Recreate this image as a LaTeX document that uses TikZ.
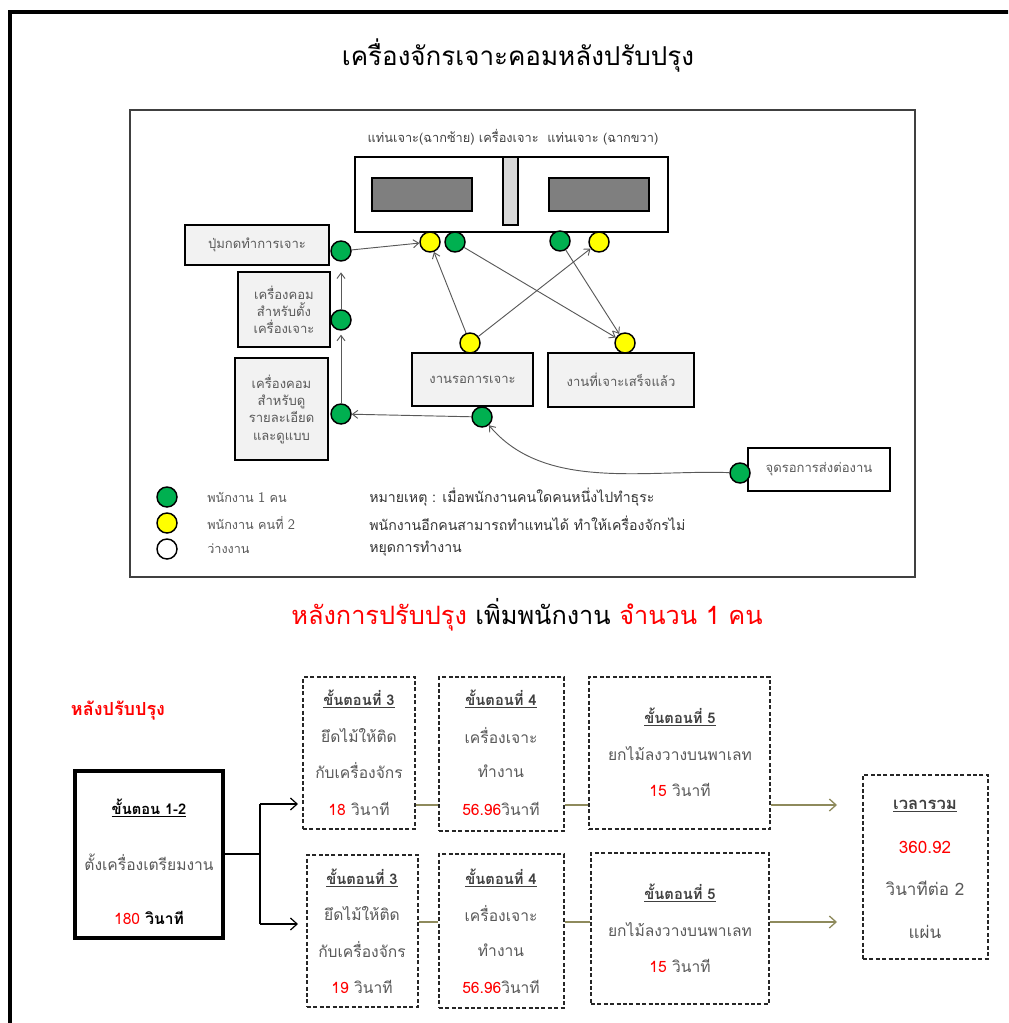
\documentclass[tikz,border=0pt]{standalone}
\usepackage{fontspec}
\setmainfont[Script=Thai]{Loma}
\usetikzlibrary{arrows.meta}

\definecolor{boxgray}{HTML}{F2F2F2}
\definecolor{staffgreen}{HTML}{00B050}
\definecolor{staffyellow}{HTML}{FFFF00}
\definecolor{linegray}{HTML}{595959}
\definecolor{textgray}{HTML}{595959}
\definecolor{headgray}{HTML}{404040}
\definecolor{flowolive}{HTML}{8E8A5C}
\definecolor{darkfill}{HTML}{7F7F7F}
\definecolor{barfill}{HTML}{D9D9D9}
\definecolor{headred}{HTML}{FF0000}

% rectangle node spanning (x1,y1)-(x2,y2) in pixel units
\newcommand\mybox[6]{\node[#1, minimum width={(#5-#3)*0.75pt}, minimum height={(#6-#4)*0.75pt}] (#2) at ({(#3+#5)/2},{(#4+#6)/2}) {};}
% staff marker
\newcommand\staff[4]{\node[staffdot, fill=#2] (#1) at (#3,#4) {};}

\tikzset{
  plainbox/.style={rectangle, draw=black, line width=1.2pt, fill=boxgray, inner sep=0pt},
  whitebox/.style={plainbox, fill=white},
  dashbox/.style={rectangle, draw=black!85, line width=1pt, dash pattern=on 3pt off 1.8pt, inner sep=0pt, fill=white},
  thickbox/.style={rectangle, draw=black, line width=2.3pt, inner sep=0pt, fill=white},
  staffdot/.style={circle, draw=black, line width=1.1pt, minimum size=15pt, inner sep=0pt},
  flow/.style={draw=linegray, line width=0.7pt, -{Straight Barb[length=4pt,width=6pt]}},
  conn/.style={draw=black, line width=0.9pt},
  connarrow/.style={conn, -{Straight Barb[length=5pt,width=9pt]}},
  olive/.style={draw=flowolive, line width=1pt},
  olivearrow/.style={olive, -{Straight Barb[length=5pt,width=9pt]}},
  small/.style={font=\fontsize{9.8}{11}\selectfont, text=textgray, inner sep=0pt},
  note/.style={font=\fontsize{10.6}{12}\selectfont, text=black!80, inner sep=0pt, anchor=west},
  legend/.style={font=\fontsize{9.5}{11}\selectfont, text=textgray, inner sep=0pt, anchor=west},
  body/.style={font=\fontsize{11.7}{13}\selectfont, text=textgray, inner sep=0pt},
  bigbody/.style={font=\fontsize{12.8}{14}\selectfont, text=textgray, inner sep=0pt},
  head/.style={font=\fontsize{11}{13}\selectfont\bfseries, text=headgray, inner sep=0pt},
}

\begin{document}
\begin{tikzpicture}[x=0.75pt,y=-0.75pt]
\useasboundingbox (0,0) rectangle (1008,1023);
\begin{scope}
\clip (0,0) rectangle (1008,1023);
% outer frame
\draw[line width=2.6pt] (10,12) rectangle (1040,1060);
\end{scope}

\node[font=\fontsize{19.5}{22}\selectfont, inner sep=0pt] (title) at (518,56) {เครื่องจักรเจาะคอมหลังปรับปรุง};

% ---------- layout panel ----------
\draw[draw=headgray, line width=1.3pt] (130,110) rectangle (915,577);

\node[small, font=\fontsize{9.6}{11}\selectfont, text=headgray] (machinelbl) at (513,137) {แท่นเจาะ(ฉากซ้าย) เครื่องเจาะ\ \ แท่นเจาะ (ฉากขวา)};

\mybox{whitebox}{machine}{355}{157}{668}{232}
\mybox{plainbox, fill=darkfill}{tableL}{372}{178}{472}{211}
\mybox{plainbox, fill=darkfill}{tableR}{549}{178}{649}{211}
\mybox{plainbox, fill=barfill, line width=1pt}{drill}{503}{157}{518}{225}

\mybox{plainbox}{button}{185}{225}{329}{265}
\node[small] (buttontxt) at (button) {ปุ่มกดทำการเจาะ};
\mybox{plainbox}{pcset}{238}{272}{330}{347}
\node[small, align=center, font=\fontsize{9.8}{12.7}\selectfont] (pcsettxt) at (pcset) {เครื่องคอม\\สำหรับตั้ง\\เครื่องเจาะ};
\mybox{plainbox}{pcview}{235}{358}{328}{460}
\node[small, align=center, font=\fontsize{9.8}{13}\selectfont] (pcviewtxt) at (pcview) {เครื่องคอม\\สำหรับดู\\รายละเอียด\\และดูแบบ};
\mybox{plainbox}{waiting}{412}{353}{533}{406}
\node[small] (waitingtxt) at (waiting) {งานรอการเจาะ};
\mybox{plainbox}{finished}{548}{353}{694}{407}
\node[small] (finishedtxt) at (finished) {งานที่เจาะเสร็จแล้ว};
\mybox{whitebox}{handoff}{748}{448}{890}{491}
\node[small] (handofftxt) at (handoff) {จุดรอการส่งต่องาน};

% staff positions
\staff{yA}{staffyellow}{430}{242}
\staff{gA}{staffgreen}{455}{242}
\staff{gB}{staffgreen}{560}{241}
\staff{yB}{staffyellow}{599}{242}
\staff{gBtn}{staffgreen}{341}{251}
\staff{gSet}{staffgreen}{341}{320}
\staff{gView}{staffgreen}{341}{414}
\staff{yWait}{staffyellow}{470}{343}
\staff{yDone}{staffyellow}{625}{343}
\staff{gWait}{staffgreen}{482}{417}
\staff{gHand}{staffgreen}{740}{473}

% movements
\draw[flow] (gBtn) -- (yA);
\draw[flow, shorten >=8pt] (gSet) -- (gBtn);
\draw[flow, shorten >=3pt] (gView) -- (gSet);
\draw[flow] (gWait) -- (gView);
\draw[flow] (gHand) to[out=178, in=-50, looseness=0.9] (gWait);
\draw[flow] (yWait) -- (yA);
\draw[flow] (yWait) -- (yB);
\draw[flow] (gA) -- (yDone);
\draw[flow] (gB) -- (yDone);

% legend
\staff{legG}{staffgreen}{167}{497}
\staff{legY}{staffyellow}{167}{523}
\staff{legW}{white}{167}{549}
\node[legend] (legGtxt) at (207,497) {พนักงาน \textsf{\fontsize{11}{11}\selectfont 1} คน};
\node[legend] (legYtxt) at (207,523) {พนักงาน คนที่ \textsf{\fontsize{11}{11}\selectfont 2}};
\node[legend] (legWtxt) at (207,549) {ว่างงาน};
\node[note] (note1) at (369,497) {หมายเหตุ : เมื่อพนักงานคนใดคนหนึ่งไปทำธุระ};
\node[note] (note2) at (369,523) {พนักงานอีกคนสามารถทำแทนได้ ทำให้เครื่องจักรไม่};
\node[note] (note3) at (369,549) {หยุดการทำงาน};

% ---------- process after improvement ----------
\node[font=\fontsize{19}{22}\selectfont, inner sep=0pt] (subtitle) at (527,615)
  {\textcolor{headred}{หลังการปรับปรุง} เพิ่มพนักงาน \textcolor{headred}{จำนวน 1 คน}};
\node[font=\fontsize{13.5}{15}\selectfont\bfseries, text=headred, inner sep=0pt] (afterlbl) at (118,711) {หลังปรับปรุง};

\mybox{thickbox}{s12}{75}{771}{223}{938}
\node[head, text=black] (s12h) at (149,808) {\underline{ขั้นตอน 1-2}};
\node[body] (s12b) at (149,862) {ตั้งเครื่องเตรียมงาน};
\node[body, text=black] (s12t) at (149,918) {\textcolor{headred}{180} \textbf{วินาที}};

% upper line
\mybox{dashbox}{s3a}{303}{677}{415}{829}
\node[head] (s3ah) at (359,699) {\underline{ขั้นตอนที่ 3}};
\node[body] (s3a1) at (359,736) {ยึดไม้ให้ติด};
\node[body] (s3a2) at (359,771) {กับเครื่องจักร};
\node[body] (s3a3) at (359,809) {\textcolor{headred}{18} วินาที};
\mybox{dashbox}{s4a}{439}{677}{564}{831}
\node[head] (s4ah) at (501,699) {\underline{ขั้นตอนที่ 4}};
\node[body] (s4a1) at (501,736) {เครื่องเจาะ};
\node[body] (s4a2) at (501,771) {ทำงาน};
\node[body] (s4a3) at (501,809) {\textcolor{headred}{56.96}วินาที};
\mybox{dashbox}{s5a}{589}{677}{770}{829}
\node[head] (s5ah) at (680,717) {\underline{ขั้นตอนที่ 5}};
\node[body] (s5a1) at (680,754) {ยกไม้ลงวางบนพาเลท};
\node[body] (s5a2) at (680,790) {\textcolor{headred}{15} วินาที};

% lower line
\mybox{dashbox}{s3b}{307}{855}{418}{1007}
\node[head] (s3bh) at (362,878) {\underline{ขั้นตอนที่ 3}};
\node[body] (s3b1) at (362,914) {ยึดไม้ให้ติด};
\node[body] (s3b2) at (362,950) {กับเครื่องจักร};
\node[body] (s3b3) at (362,987) {\textcolor{headred}{19} วินาที};
\mybox{dashbox}{s4b}{439}{854}{564}{1008}
\node[head] (s4bh) at (501,878) {\underline{ขั้นตอนที่ 4}};
\node[body] (s4b1) at (501,914) {เครื่องเจาะ};
\node[body] (s4b2) at (501,950) {ทำงาน};
\node[body] (s4b3) at (501,987) {\textcolor{headred}{56.96}วินาที};
\mybox{dashbox}{s5b}{591}{853}{769}{1004}
\node[head] (s5bh) at (680,893) {\underline{ขั้นตอนที่ 5}};
\node[body] (s5b1) at (680,930) {ยกไม้ลงวางบนพาเลท};
\node[body] (s5b2) at (680,966) {\textcolor{headred}{15} วินาที};

% total
\mybox{dashbox}{total}{863}{775}{988}{959}
\node[head, font=\fontsize{12.5}{14}\selectfont\bfseries] (toth) at (925,806) {\underline{เวลารวม}};
\node[bigbody, text=headred] (tot1) at (925,847) {360.92};
\node[bigbody] (tot2) at (925,888) {วินาทีต่อ 2};
\node[bigbody] (tot3) at (925,932) {แผ่น};

% connectors
\coordinate (split) at (260,854);
\coordinate (upin) at (298,804);
\coordinate (dnin) at (298,924);
\coordinate (rowA) at (0,805);
\coordinate (rowB) at (0,922);
\draw[conn] (s12.east |- split) -- (split);
\draw[conn] (split |- upin) -- (split |- dnin);
\draw[connarrow] (split |- upin) -- (upin);
\draw[connarrow] (split |- dnin) -- (dnin);

\draw[olive] (s3a.east |- rowA) -- (s4a.west |- rowA);
\draw[olive] (s4a.east |- rowA) -- (s5a.west |- rowA);
\draw[olivearrow, shorten >=19pt] (s5a.east |- rowA) -- (total.west |- rowA);
\draw[olive] (s3b.east |- rowB) -- (s4b.west |- rowB);
\draw[olive] (s4b.east |- rowB) -- (s5b.west |- rowB);
\draw[olivearrow, shorten >=19pt] (s5b.east |- rowB) -- (total.west |- rowB);
\end{tikzpicture}
\end{document}
